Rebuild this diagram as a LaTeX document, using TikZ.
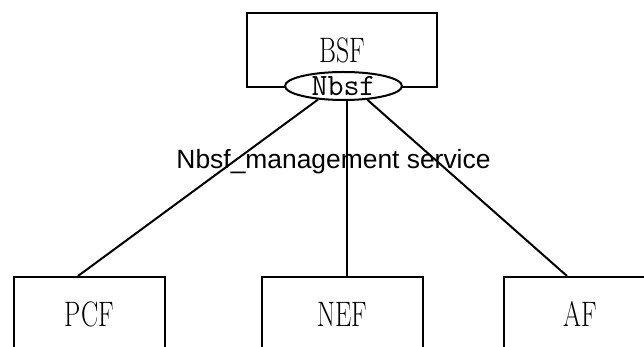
\documentclass[tikz,border=0pt]{standalone}
\usepackage{fontspec}
\newfontfamily\arialfont{Liberation Sans}
\usetikzlibrary{shapes.geometric}
\newcommand{\nfname}[1]{\scalebox{0.73}[1]{#1}}

\begin{document}
\begin{tikzpicture}[x=0.5pt,y=-0.5pt,line width=1pt,
  nf/.style={draw,rectangle,minimum height=37pt,inner sep=0pt,font=\fontsize{17.7}{20}\selectfont},
  svc/.style={draw,ellipse,fill=white,minimum width=58.5pt,minimum height=14pt,inner xsep=0pt,inner ysep=-2pt,font=\ttfamily\fontsize{15.5}{18}\selectfont}]
  \useasboundingbox (0,0) rectangle (644,347);
  \node[nf,minimum width=95pt] (bsf) at (342,50) {\nfname{BSF}};
  \node[svc] (nbsf) at (343.5,86) {Nbsf};

  \node[nf,minimum width=75.5pt] (pcf) at (89.5,314) {\nfname{PCF}};
  \node[nf,minimum width=80.5pt] (nef) at (342.5,314) {\nfname{NEF}};
  \node[nf,minimum width=76pt] (af) at (580,314) {\nfname{AF}};

  \node[font=\arialfont\fontsize{13.2}{15}\selectfont] (mgmt) at (333.5,162) {Nbsf\_management service};

  \draw (nbsf.-152) -- ([xshift=-5.75pt]pcf.north);
  \draw ([xshift=1.75pt]nbsf.south) -- ([xshift=2.25pt]nef.north);
  \draw (nbsf.-30) -- ([xshift=-6.5pt]af.north);
\end{tikzpicture}
\end{document}
